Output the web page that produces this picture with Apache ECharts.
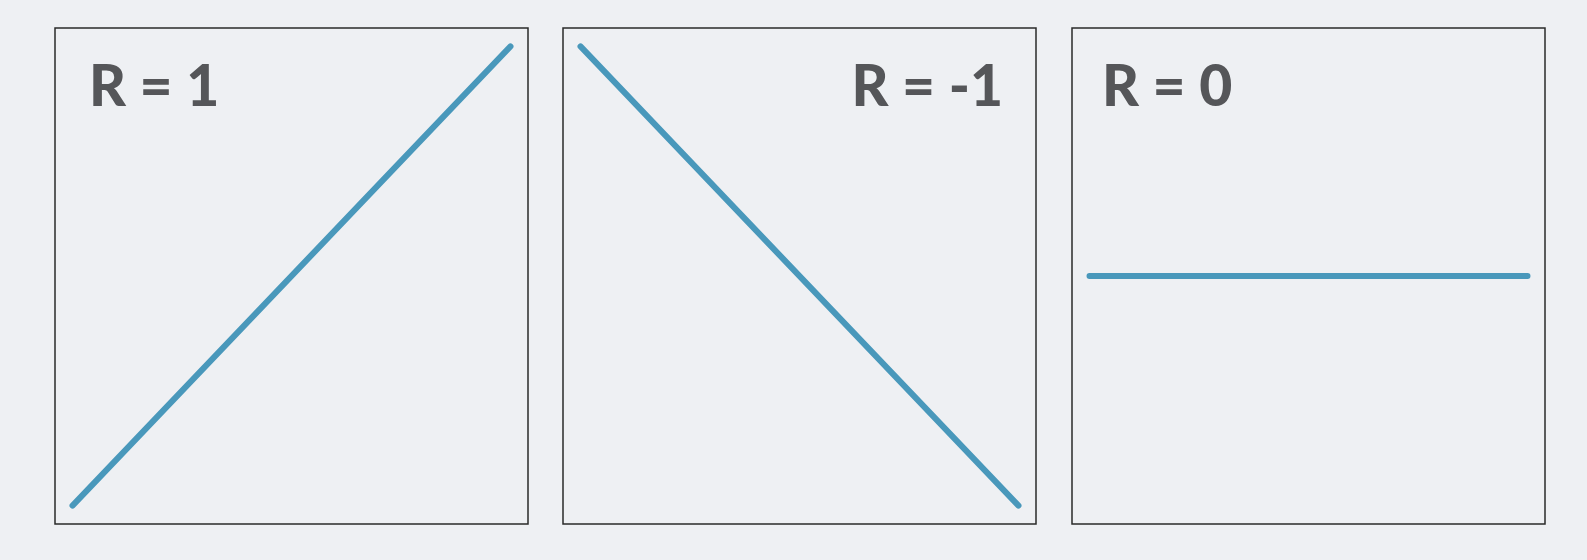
<!DOCTYPE html>
<html>
<head>
<meta charset="utf-8">
<script src="https://cdn.jsdelivr.net/npm/echarts@6/dist/echarts.min.js"></script>
<style>
  html, body { margin: 0; padding: 0; background: #eef0f3; }
  #chart { width: 1587px; height: 560px; }
</style>
</head>
<body>
<div id="chart"></div>
<script>
// Three correlation examples: perfect positive, perfect negative, none
const panelLabels = ['R = 1', 'R = -1', 'R = 0'];
const xValues = [0, 100];
const yPositive = [0, 100];
const yNegative = [100, 0];
const yNone = [50, 50];

const seriesValues = [yPositive, yNegative, yNone];

// Panel boxes in pixels (left, width)
const panelLeft = [55, 563, 1072];
const panelWidth = 473;
const panelTop = 28;
const panelHeight = 496;

const lineColor = '#4998bb';
const textColor = '#555659';

const chart = echarts.init(document.getElementById('chart'), null, { renderer: 'canvas' });

const grids = panelLeft.map(l => ({
  left: l, top: panelTop, width: panelWidth, height: panelHeight,
  show: true, borderColor: '#2a2a2a', borderWidth: 1.5,
  backgroundColor: 'transparent'
}));

const xAxes = grids.map((g, i) => ({
  type: 'value', gridIndex: i, min: -4, max: 104, show: false
}));
const yAxes = grids.map((g, i) => ({
  type: 'value', gridIndex: i, min: -4, max: 104, show: false
}));

const series = seriesValues.map((ys, i) => ({
  type: 'line',
  xAxisIndex: i, yAxisIndex: i,
  data: xValues.map((x, k) => [x, ys[k]]),
  symbol: 'none',
  lineStyle: { color: lineColor, width: 6, cap: 'round' },
  silent: true
}));

const titleStyle = {
  fontFamily: 'Lato',
  fontWeight: 900,
  fontSize: 57,
  color: textColor
};

const titles = [
  { text: panelLabels[0], left: 89, top: 59, padding: 0, textStyle: titleStyle },
  { text: panelLabels[1], right: 1587 - 1003, top: 59, padding: 0, textStyle: titleStyle },
  { text: panelLabels[2], left: 1102, top: 59, padding: 0, textStyle: titleStyle }
];

chart.setOption({
  backgroundColor: '#eef0f3',
  animation: false,
  title: titles,
  grid: grids,
  xAxis: xAxes,
  yAxis: yAxes,
  series: series
});
</script>
</body>
</html>
